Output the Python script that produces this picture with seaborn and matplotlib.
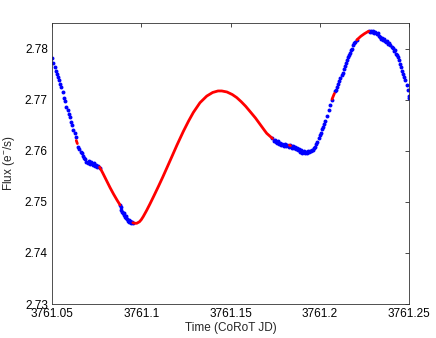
#!/usr/bin/env python3

import pandas as pd
import seaborn as sns
import matplotlib
matplotlib.use('Agg')
import matplotlib.pyplot as plt

t_obs = [
    3761.0500, 3761.0508, 3761.0515, 3761.0520, 3761.0527, 3761.0533, 3761.0540,
    3761.0547, 3761.0553, 3761.0560, 3761.0567, 3761.0573, 3761.0580, 3761.0587,
    3761.0593, 3761.0600, 3761.0607, 3761.0613, 3761.0620, 3761.0627, 3761.0633,
    3761.0647, 3761.0653, 3761.0660, 3761.0667, 3761.0673, 3761.0680, 3761.0687,
    3761.0693, 3761.0700, 3761.0707, 3761.0713, 3761.0720, 3761.0727, 3761.0733,
    3761.0740, 3761.0747, 3761.0753, 3761.0760, 3761.0767,
    3761.0881, 3761.0885, 3761.0889, 3761.0893, 3761.0897, 3761.0901, 3761.0905,
    3761.0909, 3761.0913, 3761.0917, 3761.0921, 3761.0925, 3761.0929, 3761.0933,
    3761.0937, 3761.0941, 3761.0945, 3761.0949, 3761.0953,
    3761.1735, 3761.1741, 3761.1747, 3761.1753, 3761.1759, 3761.1765, 3761.1771,
    3761.1777, 3761.1783, 3761.1789, 3761.1795, 3761.1801, 3761.1807, 3761.1813,
    3761.1819, 3761.1825, 3761.1831, 3761.1837, 3761.1843, 3761.1849, 3761.1855,
    3761.1861, 3761.1867, 3761.1873, 3761.1879, 3761.1885, 3761.1891, 3761.1897,
    3761.1903, 3761.1909, 3761.1915, 3761.1921, 3761.1927, 3761.1933, 3761.1939,
    3761.1945, 3761.1951, 3761.1957, 3761.1963, 3761.1969, 3761.1975, 3761.1981,
    3761.1987, 3761.1993, 3761.1999, 3761.2005, 3761.2011, 3761.2017, 3761.2023,
    3761.2030, 3761.2040, 3761.2050, 3761.2060, 3761.2067,
    3761.2086, 3761.2092, 3761.2098, 3761.2104, 3761.2110, 3761.2116, 3761.2122,
    3761.2128, 3761.2134, 3761.2140, 3761.2146, 3761.2152, 3761.2158, 3761.2164,
    3761.2170, 3761.2176, 3761.2182, 3761.2188, 3761.2194, 3761.2200, 3761.2206,
    3761.2276, 3761.2282, 3761.2288, 3761.2294, 3761.2300, 3761.2306, 3761.2312,
    3761.2318, 3761.2324, 3761.2330, 3761.2336, 3761.2342, 3761.2348, 3761.2354,
    3761.2360, 3761.2366, 3761.2372, 3761.2378, 3761.2384, 3761.2390, 3761.2396,
    3761.2402, 3761.2408, 3761.2414, 3761.2420, 3761.2426, 3761.2432, 3761.2438,
    3761.2444, 3761.2450, 3761.2456, 3761.2462, 3761.2468, 3761.2474, 3761.2480,
    3761.2486, 3761.2492, 3761.2498, 3761.2500,
]
f_obs = [
    2.7782, 2.7772, 2.7764, 2.7757, 2.7751, 2.7744, 2.7738,
    2.7730, 2.7724, 2.7714, 2.7703, 2.7697, 2.7686, 2.7679,
    2.7671, 2.7666, 2.7656, 2.7650, 2.7640, 2.7635, 2.7626,
    2.7608, 2.7604, 2.7598, 2.7595, 2.7589, 2.7586, 2.7583,
    2.7578, 2.7576, 2.7580, 2.7574, 2.7578, 2.7572, 2.7576,
    2.7570, 2.7573, 2.7568, 2.7570, 2.7567,
    2.7494, 2.7489, 2.7484, 2.7481, 2.7478, 2.7479, 2.7474,
    2.7471, 2.7473, 2.7468, 2.7466, 2.7463, 2.7465, 2.7461,
    2.7462, 2.7460, 2.7459, 2.7460, 2.7459,
    2.7624, 2.7619, 2.7621, 2.7617, 2.7615, 2.7619, 2.7613,
    2.7616, 2.7611, 2.7614, 2.7612, 2.7609, 2.7613, 2.7610,
    2.7612, 2.7608, 2.7611, 2.7609, 2.7606, 2.7609, 2.7605,
    2.7607, 2.7603, 2.7605, 2.7601, 2.7603, 2.7598, 2.7601,
    2.7596, 2.7599, 2.7595, 2.7598, 2.7596, 2.7599, 2.7597,
    2.7600, 2.7599, 2.7602, 2.7601, 2.7605, 2.7608, 2.7613,
    2.7617, 2.7624, 2.7630, 2.7634, 2.7642, 2.7647, 2.7653,
    2.7659, 2.7668, 2.7680, 2.7690, 2.7699,
    2.7716, 2.7719, 2.7725, 2.7731, 2.7736, 2.7742, 2.7748,
    2.7753, 2.7760, 2.7765, 2.7772, 2.7777, 2.7783, 2.7788,
    2.7791, 2.7797, 2.7800, 2.7806, 2.7810, 2.7813, 2.7816,
    2.7834, 2.7832, 2.7835, 2.7832, 2.7834, 2.7830, 2.7833,
    2.7828, 2.7830, 2.7825, 2.7822, 2.7819, 2.7821, 2.7816,
    2.7818, 2.7814, 2.7812, 2.7814, 2.7809, 2.7811, 2.7806,
    2.7804, 2.7801, 2.7795, 2.7797, 2.7790, 2.7787, 2.7783,
    2.7778, 2.7769, 2.7764, 2.7757, 2.7751, 2.7744, 2.7738,
    2.7728, 2.7719, 2.7708, 2.7703,
]

# model / gap fill (red), one id per segment
t_fit = [
    3761.0636, 3761.0642,
    3761.0767, 3761.0785, 3761.0805, 3761.0825, 3761.0845, 3761.0865, 3761.0881,
    3761.0953, 3761.0965, 3761.0975, 3761.0990, 3761.1000, 3761.1011, 3761.1030,
    3761.1049, 3761.1070, 3761.1096, 3761.1120, 3761.1143, 3761.1171, 3761.1200,
    3761.1236, 3761.1265, 3761.1292, 3761.1329, 3761.1367, 3761.1400, 3761.1430,
    3761.1451, 3761.1480, 3761.1510, 3761.1535, 3761.1560, 3761.1585, 3761.1609,
    3761.1640, 3761.1665, 3761.1690, 3761.1703, 3761.1735,
    3761.1830, 3761.1836,
    3761.2069, 3761.2082,
    3761.2208, 3761.2230, 3761.2250, 3761.2274,
]
f_fit = [
    2.7620, 2.7614,
    2.7568, 2.7556, 2.7542, 2.7528, 2.7515, 2.7503, 2.7494,
    2.7459, 2.7458, 2.7458, 2.7461, 2.7465, 2.7471, 2.7483,
    2.7496, 2.7511, 2.7530, 2.7548, 2.7566, 2.7588, 2.7611,
    2.7638, 2.7658, 2.7675, 2.7694, 2.7707, 2.7714, 2.7717,
    2.7717, 2.7715, 2.7710, 2.7704, 2.7696, 2.7687, 2.7677,
    2.7664, 2.7652, 2.7640, 2.7634, 2.7624,
    2.7611, 2.7610,
    2.7701, 2.7712,
    2.7817, 2.7824, 2.7829, 2.7834,
]
seg_fit = [0] * 2 + [1] * 7 + [2] * 33 + [3] * 2 + [4] * 2 + [5] * 4

x_ticks = [3761.05, 3761.10, 3761.15, 3761.20, 3761.25]
x_labels = ['3761.05', '3761.1', '3761.15', '3761.2', '3761.25']
y_ticks = [2.73, 2.74, 2.75, 2.76, 2.77, 2.78]
y_labels = ['2.73', '2.74', '2.75', '2.76', '2.77', '2.78']

obs = pd.DataFrame({'t': t_obs, 'f': f_obs})
fit = pd.DataFrame({'t': t_fit, 'f': f_fit, 'seg': seg_fit})

sns.set_style('white')
plt.rcParams['font.family'] = ['Liberation Sans', 'DejaVu Sans']
plt.rcParams['mathtext.fontset'] = 'custom'
plt.rcParams['mathtext.rm'] = 'Liberation Sans'

fig = plt.figure(figsize=(4.36, 3.38), dpi=100)
ax = fig.add_axes([52 / 436, 34 / 338, 357 / 436, 281 / 338])

sns.scatterplot(data=obs, x='t', y='f', ax=ax, color='#0000ff', s=8,
                linewidth=0, marker='o', legend=False)
sns.lineplot(data=fit, x='t', y='f', units='seg', estimator=None, sort=False,
             ax=ax, color='#ff0000', lw=2.0, legend=False)

ax.set_xlim(3761.05, 3761.25)
ax.set_ylim(2.73, 2.785)
ax.set_xticks(x_ticks)
ax.set_xticklabels(x_labels)
ax.set_yticks(y_ticks)
ax.set_yticklabels(y_labels)
ax.tick_params(direction='in', length=3, width=0.5, labelsize=8.5, pad=3,
               top=True, right=True, colors='black')
for sp in ax.spines.values():
    sp.set_color('#333333')
    sp.set_linewidth(0.6)

ax.set_xlabel('Time (CoRoT JD)', fontsize=8.5, labelpad=1)
ax.set_ylabel(r'Flux (e$^{-}$/s)', fontsize=8.5, labelpad=6)

fig.savefig('out.png', dpi=100)
